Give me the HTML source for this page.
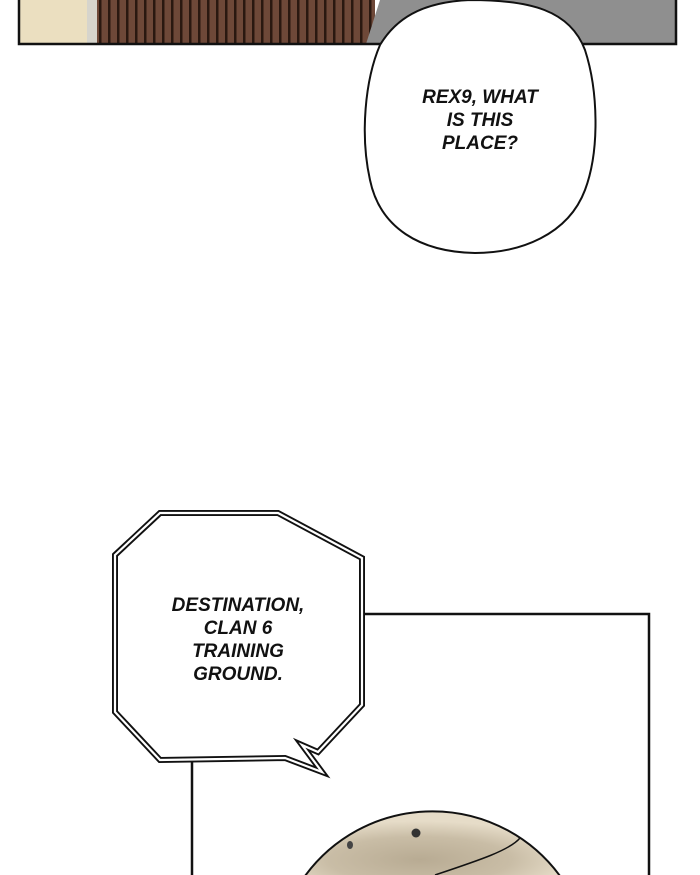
<!DOCTYPE html>
<html><head><style>
html,body{margin:0;background:#fff;width:700px;height:875px;overflow:hidden;}
svg{display:block}
text{font-family:"Liberation Sans",sans-serif;font-weight:bold;font-style:italic;font-size:19px;text-anchor:middle;fill:#111}
</style></head><body>
<svg width="700" height="875" viewBox="0 0 700 875" xmlns="http://www.w3.org/2000/svg">
<defs>
<pattern id="st" width="9" height="50" patternUnits="userSpaceOnUse">
<rect width="9" height="50" fill="#6e4838"/>
<rect x="0" width="2.5" height="50" fill="#2a1810"/>
</pattern>
<radialGradient id="ball" cx="0.45" cy="0.75" r="0.6">
<stop offset="0" stop-color="#b8ab93"/>
<stop offset="0.6" stop-color="#c9bda6"/>
<stop offset="1" stop-color="#e6dcc8"/>
</radialGradient>
<clipPath id="cp"><rect x="0" y="0" width="700" height="875"/></clipPath>
</defs>
<g clip-path="url(#cp)">
<rect x="19" y="0" width="68" height="44" fill="#ebdfc0"/>
<rect x="87" y="0" width="10" height="44" fill="#d6d4cc"/>
<rect x="97" y="0" width="278" height="44" fill="url(#st)"/>
<polygon points="380,0 677,0 677,44 366,44" fill="#8f8f8f"/>
<path d="M19,0 V44 H676 V0" fill="none" stroke="#111" stroke-width="2.5"/>
<path d="M380,45 C395,20 420,2 470,0 C530,0 570,10 585,50 C598,90 600,150 585,190 C568,235 520,253 475,253 C420,252 380,228 370,180 C360,135 365,80 380,45 Z" fill="#fff" stroke="#111" stroke-width="2"/>
<text x="480" y="103">REX9, WHAT</text>
<text x="480" y="126">IS THIS</text>
<text x="480" y="149">PLACE?</text>
<path d="M192,875 V614 H649 V875" fill="#fff" stroke="#111" stroke-width="2.5"/>
<path d="M305,876 A158,158 0 0 1 560,876 Z" fill="url(#ball)" stroke="#111" stroke-width="2"/>
<path d="M435,875 C480,860 510,850 520,838" fill="none" stroke="#111" stroke-width="1.5"/>
<circle cx="416" cy="833" r="4.5" fill="#333"/>
<ellipse cx="350" cy="845" rx="3" ry="4" fill="#444"/>
<path d="M115,555 L160,513 L278,513 L362,558 L362,705 L318,752 L302,745 L322,772 L285,758 L160,760 L115,712 Z" fill="#fff" stroke="#111" stroke-width="6" stroke-linejoin="miter"/>
<path d="M115,555 L160,513 L278,513 L362,558 L362,705 L318,752 L302,745 L322,772 L285,758 L160,760 L115,712 Z" fill="none" stroke="#fff" stroke-width="2.2" stroke-linejoin="miter"/>
<text x="238" y="611">DESTINATION,</text>
<text x="238" y="634">CLAN 6</text>
<text x="238" y="657">TRAINING</text>
<text x="238" y="680">GROUND.</text>
</g>
</svg>
</body></html>
